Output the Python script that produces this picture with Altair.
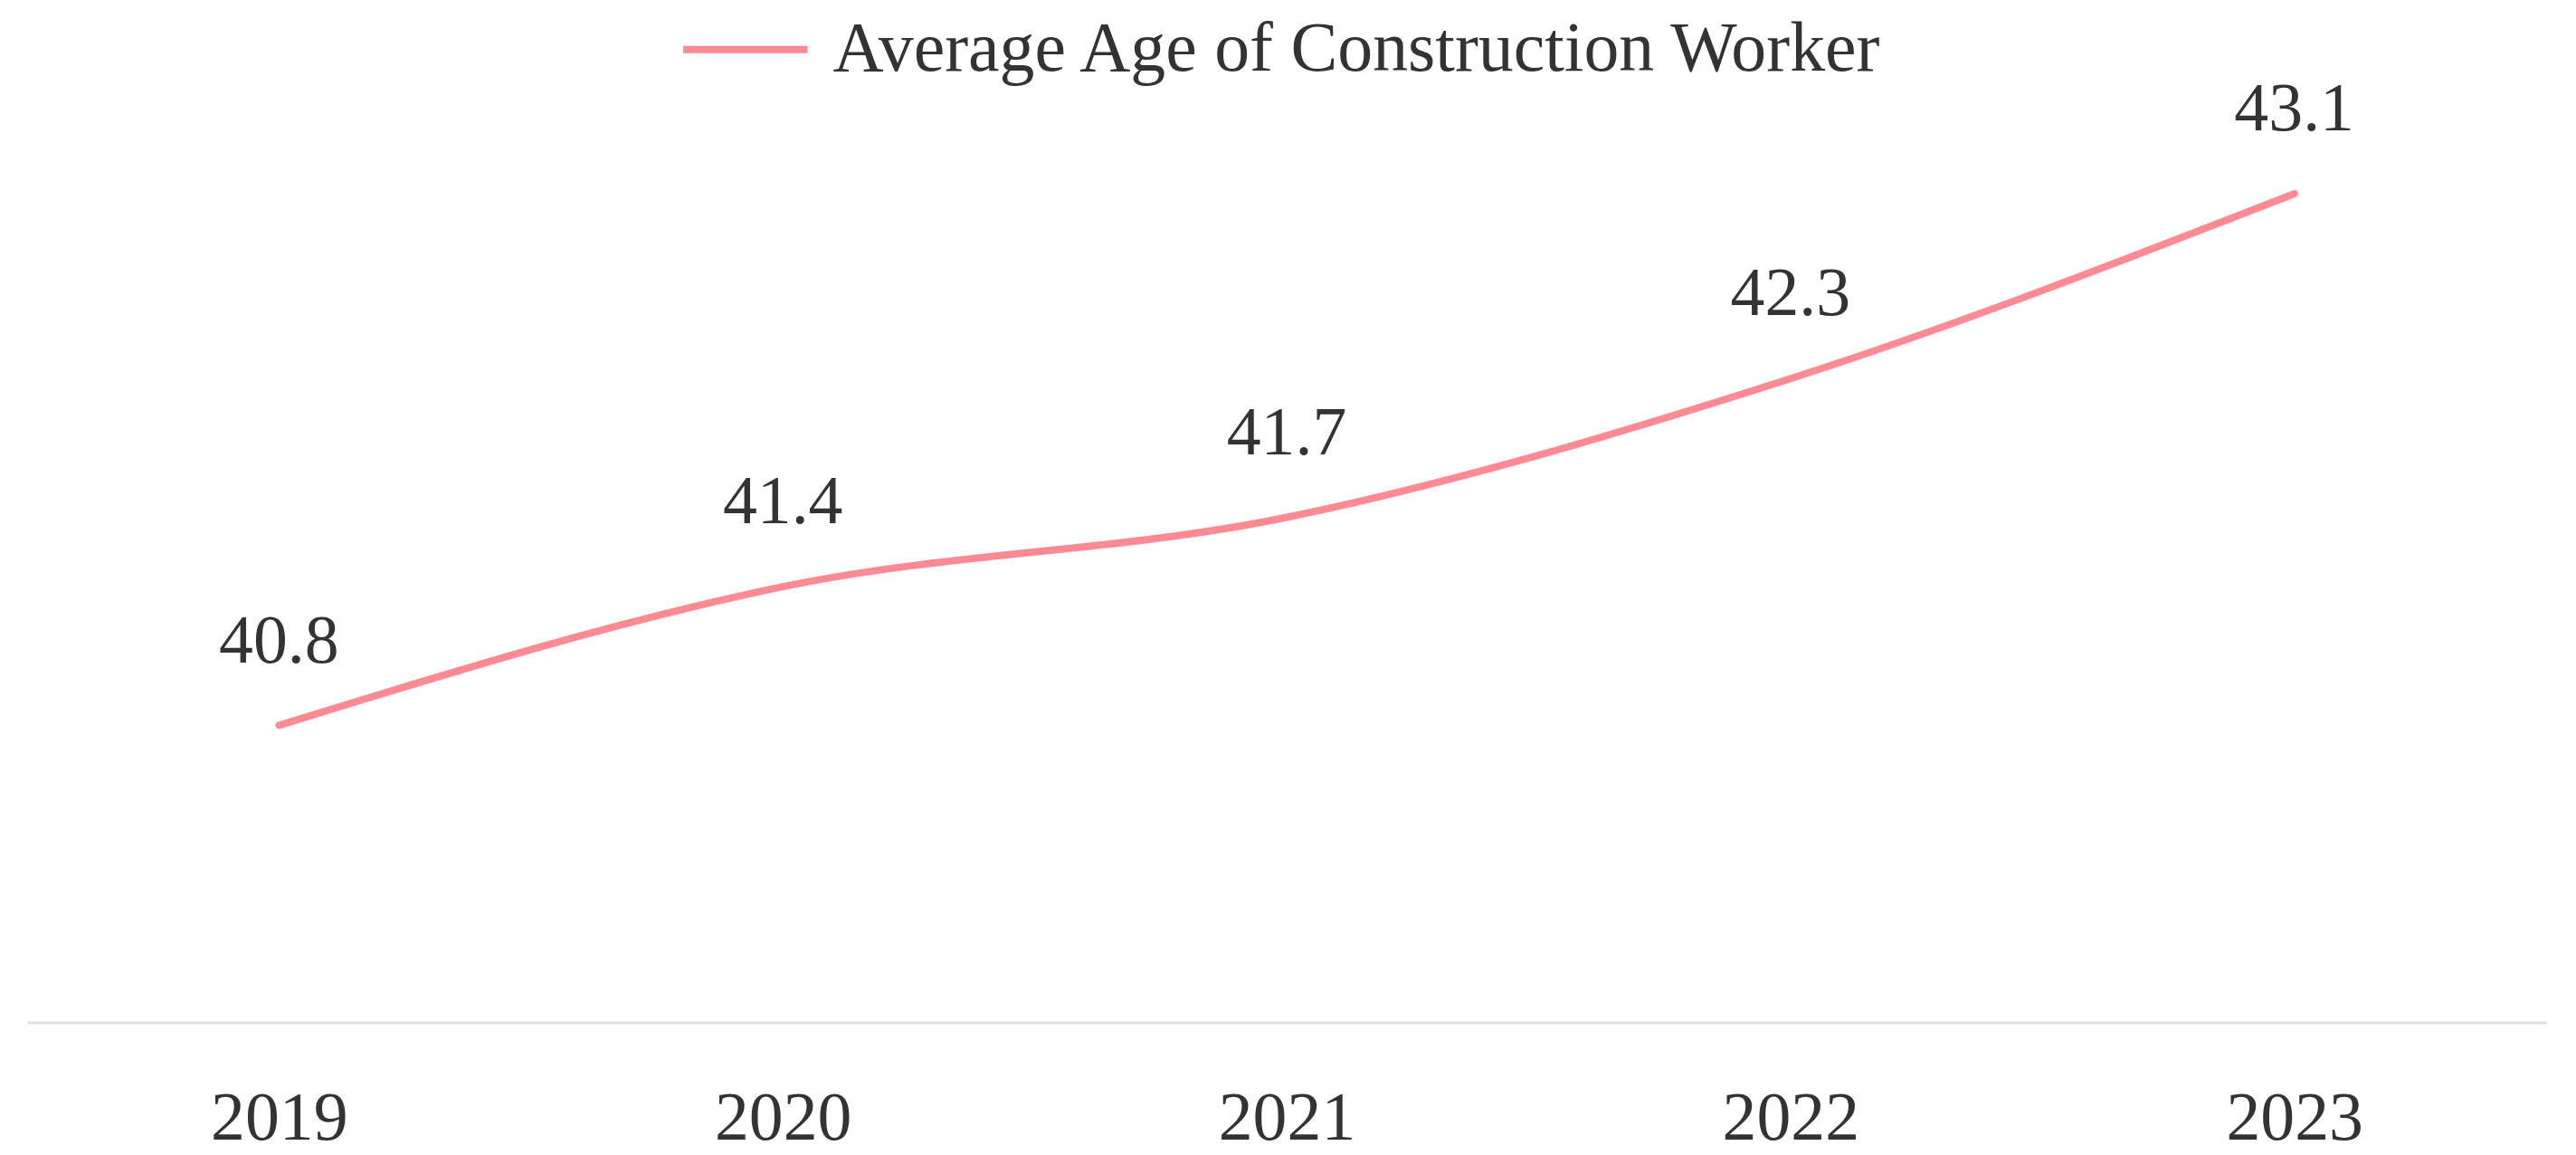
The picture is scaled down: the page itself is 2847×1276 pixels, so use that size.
import altair as alt
import pandas as pd

years = ["2019", "2020", "2021", "2022", "2023"]
ages = [40.8, 41.4, 41.7, 42.3, 43.1]
series = ["Average Age of Construction Worker"] * len(years)

df = pd.DataFrame({"year": years, "age": ages, "series": series})

FONT = "Liberation Serif"
LINE_COLOR = "#FF8A94"
TEXT_COLOR = "#333333"

base = alt.Chart(df).encode(
    x=alt.X(
        "year:N",
        sort=years,
        scale=alt.Scale(type="point", padding=0.5),
        axis=alt.Axis(
            title=None,
            labelAngle=0,
            labelFont=FONT,
            labelFontSize=76,
            labelColor=TEXT_COLOR,
            labelBaseline="middle",
            labelPadding=106,
            ticks=False,
            domainColor="#E0E0E0",
            domainWidth=3,
            grid=False,
        ),
    ),
    y=alt.Y(
        "age:Q",
        scale=alt.Scale(domain=[39.515, 43.54], zero=False, nice=False),
        axis=None,
    ),
)

line = base.mark_line(interpolate="monotone", strokeWidth=8, strokeCap="round").encode(
    color=alt.Color(
        "series:N",
        scale=alt.Scale(range=[LINE_COLOR]),
        legend=alt.Legend(
            title=None,
            orient="none",
            legendX=723,
            legendY=-120,
            symbolType="stroke",
            symbolStrokeWidth=8,
            symbolSize=19000,
            labelFont=FONT,
            labelFontSize=78,
            labelColor=TEXT_COLOR,
            labelOffset=24,
            labelLimit=0,
        ),
    )
)

labels = base.mark_text(
    font=FONT, fontSize=76, color=TEXT_COLOR, baseline="middle", align="center", dy=-93
).encode(text=alt.Text("age:Q", format=".1f"))

chart = (
    alt.layer(line, labels)
    .properties(
        width=2792,
        height=1031,
        padding={"left": 22, "top": 92, "right": 25, "bottom": 145},
        autosize=alt.AutoSizeParams(type="none"),
        background="white",
    )
    .configure_view(stroke=None, strokeWidth=0)
)

chart.save("out.html", embed_options={"renderer": "svg", "actions": False})
